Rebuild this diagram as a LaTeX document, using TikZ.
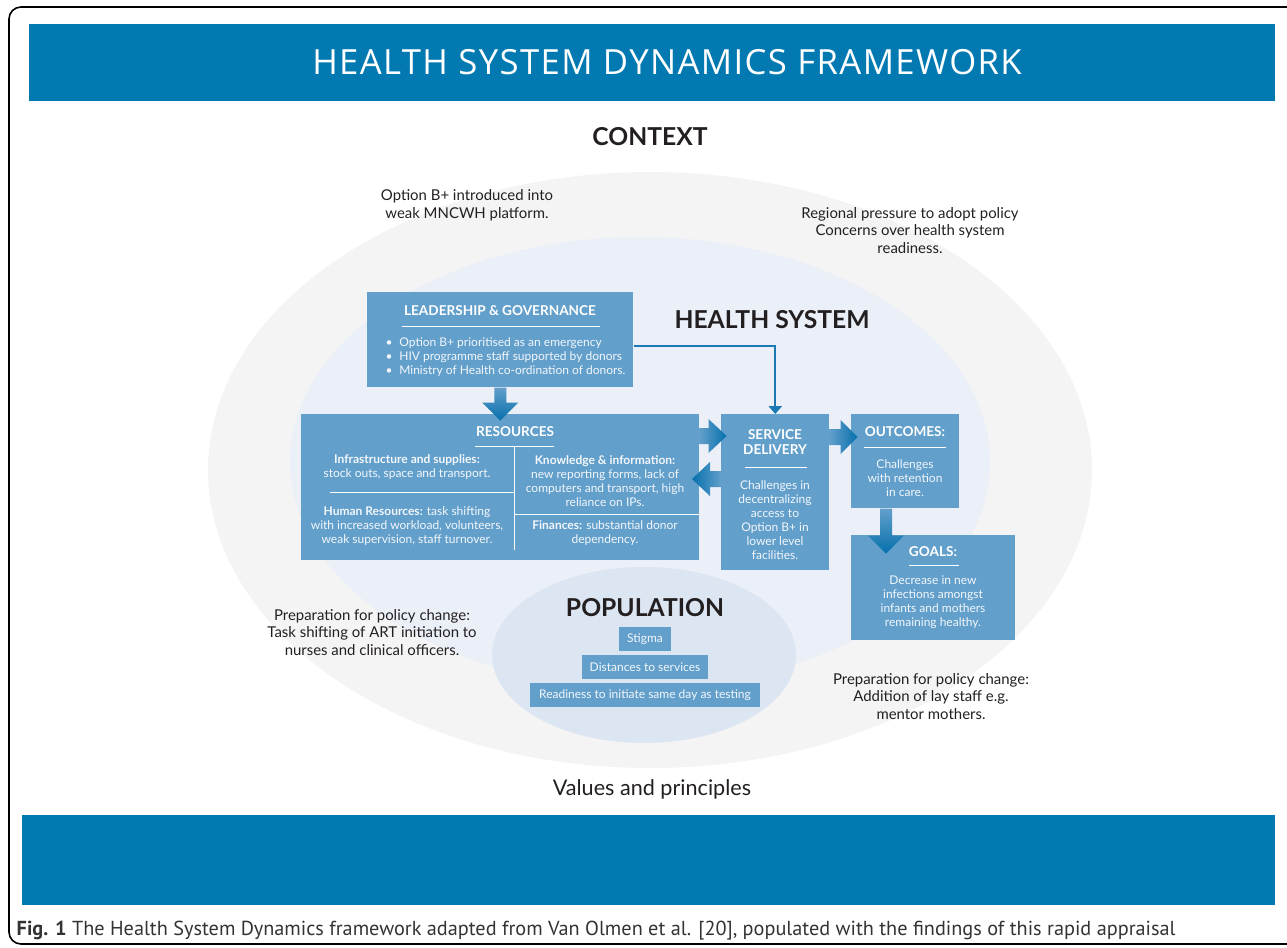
\documentclass[tikz,border=0pt]{standalone}
\usepackage{fontspec}
\setmainfont{Lato}
\newfontfamily\titlefont[LetterSpace=4]{Open Sans}
\newfontfamily\capfont{PT Sans}
\usepackage{tikz}
\usetikzlibrary{positioning,calc,arrows.meta}

\definecolor{bandblue}{HTML}{0279B1}
\definecolor{boxblue}{HTML}{629FCB}
\definecolor{arrowblue}{HTML}{0670AC}
\definecolor{contextgray}{HTML}{F4F4F4}
\definecolor{systemblue}{HTML}{EAEFF8}
\definecolor{popblue}{HTML}{DCE5F2}
\definecolor{linkblue}{HTML}{1B79B4}
\definecolor{boxtext}{HTML}{F3F7FB}
\definecolor{inktext}{HTML}{231F20}

\tikzset{
    box/.style={fill=boxblue, inner sep=0pt, anchor=north west},
    boxhead/.style={text=white, font=\fontsize{10.2}{11.5}\selectfont\bfseries, align=center},
    boxbody/.style={text=boxtext, font=\fontsize{9}{10.5}\selectfont, align=center},
    rule/.style={draw=white, line width=0.6pt},
    contexttext/.style={text=inktext, font=\fontsize{11.2}{13.1}\selectfont, align=center},
    heading/.style={text=inktext, font=\fontsize{18.5}{20}\selectfont\bfseries},
    popbox/.style={fill=boxblue, text=boxtext, font=\fontsize{9}{10}\selectfont, inner sep=0pt, minimum height=18pt},
    link/.style={draw=linkblue, line width=1.5pt, -{Triangle[width=10pt,length=6pt]}},
}

\begin{document}
\begin{tikzpicture}[x=0.75pt, y=-0.75pt] % one unit is one pixel, y runs downwards
    \useasboundingbox (0,0) rectangle (1287,948);
    \clip (0,0) rectangle (1287,948);

    \draw[line width=1.2pt, rounded corners=9pt] (9,7) rectangle (1310,944); % Frame, open on the right

    % Bands at top and bottom
    \fill[bandblue] (29,24) rectangle (1275,101);
    \fill[bandblue] (22,815) rectangle (1275,905);
    \node[text=white, font=\titlefont\fontsize{26}{30}\selectfont] (title) at (667,62) {HEALTH SYSTEM DYNAMICS FRAMEWORK};

    % Context, health system and population
    \fill[contextgray] (650,470) ellipse [x radius=331.5pt, y radius=223.5pt];
    \fill[systemblue] (640,462) ellipse [x radius=262.5pt, y radius=168.75pt];
    \fill[popblue] (644,655) ellipse [x radius=114pt, y radius=66pt];

    \node[heading] (context) at (650,137) {CONTEXT};
    \node[heading] (healthsys) at (772,320) {HEALTH SYSTEM};
    \node[heading] (population) at (645,608) {POPULATION};

    \node[contexttext] (intro) at (467,205.5) {Option B+ introduced into\\weak MNCWH platform.};
    \node[contexttext] (pressure) at (910,230.5) {Regional pressure to adopt policy\\Concerns over health system\\readiness.};
    \node[contexttext] (prepleft) at (372,632.5) {Preparation for policy change:\\Task shifting of ART initiation to\\nurses and clinical officers.};
    \node[contexttext] (prepright) at (931,696.5) {Preparation for policy change:\\Addition of lay staff e.g.\\mentor mothers.};
    \node[text=inktext, font=\fontsize{16.2}{18}\selectfont] (values) at (652,789) {Values and principles};

    % Building blocks
    \node[box, minimum width=199.5pt, minimum height=71.25pt] (lead) at (367,292) {};
    \node[box, minimum width=298.5pt, minimum height=109.5pt] (res) at (301,414) {};
    \node[box, minimum width=81pt, minimum height=117pt] (sd) at (721,414) {};
    \node[box, minimum width=81pt, minimum height=70.5pt] (out) at (851,414) {};
    \node[box, minimum width=123pt, minimum height=78.75pt] (goals) at (851,535) {};

    % Leadership & governance
    \node[boxhead] (leadhead) at (500,311) {LEADERSHIP \& GOVERNANCE};
    \draw[rule] (402,326) -- (600,326);
    \node[boxbody, align=left, anchor=west] (leadlist) at (381,357) {\textbullet\hspace{5pt}Option B+ prioritised as an emergency\\\textbullet\hspace{5pt}HIV programme staff supported by donors\\\textbullet\hspace{5pt}Ministry of Health co-ordination of donors.};

    % Resources, split in four
    \node[boxhead] (reshead) at (515,432) {RESOURCES};
    \draw[rule] (475,446) -- (554,446);
    \draw[rule] (514,446) -- (514,550); % middle divider
    \draw[rule] (330,492) -- (514,492);
    \draw[rule] (514,514) -- (699,514);
    \node[boxbody] (infra) at (407,467) {\textbf{Infrastructure and supplies:}\\stock outs, space and transport.};
    \node[boxbody] (hr) at (407,526) {\textbf{Human Resources:} task shifting\\with increased workload, volunteers,\\weak supervision, staff turnover.};
    \node[boxbody] (know) at (605,481) {\textbf{Knowledge \& information:}\\new reporting forms, lack of\\computers and transport, high\\reliance on IPs.};
    \node[boxbody] (fin) at (605,533) {\textbf{Finances:} substantial donor\\dependency.};

    % Service delivery
    \node[boxhead] (sdhead) at (775,442) {SERVICE\\DELIVERY};
    \draw[rule] (745,467) -- (807,467);
    \node[boxbody] (sdbody) at (775,520.5) {Challenges in\\decentralizing\\access to\\Option B+ in\\lower level\\facilities.};

    % Outcomes and goals
    \node[boxhead] (outhead) at (905,432) {OUTCOMES:};
    \draw[rule] (864,447) -- (946,447);
    \node[boxbody] (outbody) at (905,478) {Challenges\\with retention\\in care.};
    \node[boxhead] (goalshead) at (933,552) {GOALS:};
    \draw[rule] (909,565) -- (959,565);
    \node[boxbody] (goalsbody) at (933,602.5) {Decrease in new\\infections amongst\\infants and mothers\\remaining healthy.};

    % Population factors
    \foreach \nm/\y/\w/\txt in {stigma/639/39pt/Stigma, distance/667/94pt/Distances to services, readiness/695/172pt/Readiness to initiate same day as testing}{
        \node[popbox, minimum width=\w] (\nm) at (645,\y) {\txt};
    }

    % Block arrows between the blocks
    \shade[top color=boxblue, bottom color=arrowblue] (lead.south) ++(-6,0) -- ++(0,15) -- ++(-12,0) -- ++(18,18) -- ++(18,-18) -- ++(-12,0) -- ++(0,-15) -- cycle;
    \shade[left color=boxblue, right color=arrowblue] (res.north east) ++(0,14) -- ++(9,0) -- ++(0,-9) -- ++(18,17) -- ++(-18,17) -- ++(0,-9) -- ++(-9,0) -- cycle;
    \shade[left color=arrowblue, right color=boxblue] (sd.north west) ++(0,57) -- ++(-11,0) -- ++(0,-9) -- ++(-18,17) -- ++(18,17) -- ++(0,-9) -- ++(11,0) -- cycle;
    \shade[left color=boxblue, right color=arrowblue] (sd.north east) ++(0,15) -- ++(11,0) -- ++(0,-9) -- ++(17,17) -- ++(-17,17) -- ++(0,-9) -- ++(-11,0) -- cycle;
    \shade[top color=boxblue, bottom color=arrowblue] (out.south west) ++(29,0) -- ++(0,27) -- ++(-12,0) -- ++(18,18) -- ++(18,-18) -- ++(-12,0) -- ++(0,-27) -- cycle;

    \draw[link] ($(lead.north east)+(0,54)$) -| (sd.north); % Leadership straight to service delivery

    \node[anchor=west, text=black!80, font=\capfont\fontsize{15.2}{17}\selectfont] (caption) at (12,931) {\textbf{Fig. 1} The Health System Dynamics framework adapted from Van Olmen et al. [20], populated with the findings of this rapid appraisal};
\end{tikzpicture}
\end{document}
